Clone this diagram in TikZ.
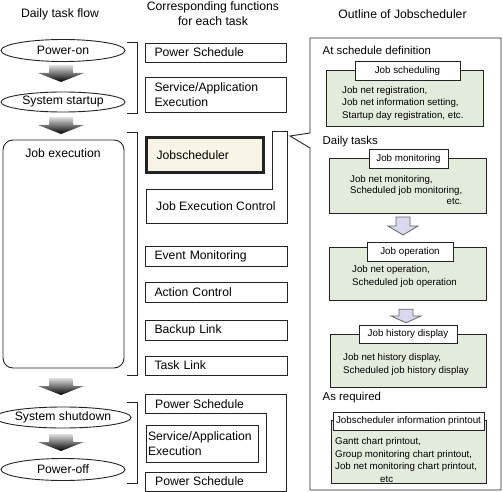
\documentclass[tikz,border=0pt]{standalone}
\usepackage{fontspec}
\setmainfont{Liberation Sans}
\usetikzlibrary{shapes.geometric}
\definecolor{grn}{RGB}{227,236,220}
\definecolor{crm}{RGB}{249,245,230}
\definecolor{lav}{RGB}{216,216,238}
\definecolor{lnc}{RGB}{35,35,35}
\begin{document}
\begin{tikzpicture}[x=1pt,y=-1pt,
 ln/.style={draw=lnc, line width=0.9pt},
 ell/.style={ellipse, ln, minimum width=124, minimum height=22, inner sep=0, font=\fontsize{12.2}{14}\selectfont},
 fbox/.style={ln, rectangle, anchor=north west, outer sep=0, inner xsep=9.5pt, inner ysep=0pt, align=left, font=\fontsize{12.2}{14.5}\selectfont},
 txt/.style={inner sep=0, font=\fontsize{12.2}{14.5}\selectfont},
 hdr/.style={font=\fontsize{12.2}{15}\selectfont, align=center, inner sep=0},
 sec/.style={font=\fontsize{11.4}{14}\selectfont, anchor=west, inner sep=0},
 gbox/.style={ln, fill=grn, rectangle, anchor=north west, outer sep=0, inner sep=0},
 tabb/.style={ln, fill=white, rectangle, anchor=north west, outer sep=0, inner sep=0, font=\fontsize{9.8}{12}\selectfont},
 body/.style={anchor=west, inner sep=0, align=left, font=\fontsize{9.7}{12.5}\selectfont},
 grayarr/.pic={\shade[top color=black!12, bottom color=black] (-12,-8) -- (12,-8) -- (12,0) -- (23,0) -- (0,9) -- (-23,0) -- (-12,0) -- cycle;},
 lavarr/.pic={\draw[draw=black!60, fill=lav, line width=0.8pt] (-7,-9) -- (7,-9) -- (7,0) -- (15,0) -- (0,9) -- (-15,0) -- (-7,0) -- cycle;}
]
\useasboundingbox (0,0) rectangle (503,492);

% ---------- left column ----------
\node[hdr] (h1) at (60,14) {Daily task flow};
\node[ell] (pon) at (63,50.5) {Power-on};
\node[ell, minimum height=20] (sst) at (63,102) {System startup};
\node[ln, rounded corners=10pt, minimum width=121, minimum height=228, anchor=north west, inner sep=0, outer sep=0] (jex) at (3,140) {};
\node[txt] (jext) at (63,153) {Job execution};
\node[ell, minimum height=21] (ssd) at (63,417.5) {System shutdown};
\node[ell] (poff) at (63,469.5) {Power-off};
\pic at (61,73) {grayarr};
\pic at (61,125) {grayarr};
\pic at (61,386) {grayarr};
\pic at (61,442) {grayarr};

% brackets
\draw[ln] (127,42) -- (137,42) -- (137,113) -- (127,113);
\draw[ln] (127,132) -- (137,132) -- (137,375) -- (127,375);
\draw[ln] (127,402) -- (137,402) -- (137,483) -- (127,483);

% ---------- middle column ----------
\node[hdr] (h2) at (213,14) {Corresponding functions\\for each task};
\node[fbox, minimum height=19, text width=122] (ps1) at (145,43) {Power Schedule};
\node[fbox, minimum height=35, text width=122] (sae1) at (145,77) {Service/Application\\Execution};
\draw[ln] (272,131) -- (287,131) -- (287,223) -- (146,223) -- (146,189) -- (272,189) -- cycle;
\node[fbox, line width=3pt, fill=crm, minimum height=34.5, inner xsep=10pt, text width=97] (jsch) at (146.5,137.5) {Jobscheduler};
\node[txt, anchor=west] (jec) at (156,206) {Job Execution Control};
\node[fbox, minimum height=20, text width=123] (evm) at (145,246) {Event Monitoring};
\node[fbox, minimum height=20, text width=123] (act) at (145,282) {Action Control};
\node[fbox, minimum height=20, text width=123] (bkl) at (145,320) {Backup Link};
\node[fbox, minimum height=19, text width=123] (tkl) at (145,356) {Task Link};
\draw[ln] (145,394) -- (286,394) -- (286,491) -- (145,491) -- (145,472) -- (266,472) -- (266,413) -- (145,413) -- cycle;
\node[txt, anchor=west] (ps2) at (155,404) {Power Schedule};
\node[txt, anchor=west] (ps3) at (155,481.5) {Power Schedule};
\node[fbox, minimum height=37, inner xsep=2pt, text width=108] (sae2) at (146,425) {Service/Application\\Execution};

% ---------- right column ----------
\node[hdr] (h3) at (402.5,14) {Outline of Jobscheduler};
\draw[ln] (310,133) -- (310,38) -- (501,38) -- (501,490) -- (310,490) -- (310,148) -- (290,136) -- cycle;

\node[sec] (s1) at (322.5,50.5) {At schedule definition};
\node[gbox, minimum width=157, minimum height=56] (gjs) at (326,70) {};
\node[tabb, minimum width=105, minimum height=19] (tjs) at (355,61) {Job scheduling};
\node[body] (bjs) at (342,103) {Job net registration,\\Job net information setting,\\Startup day registration, etc.};

\node[sec] (s2) at (322.5,141.5) {Daily tasks};
\node[gbox, minimum width=157, minimum height=55] (gjm) at (329,158) {};
\node[tabb, minimum width=79, minimum height=19] (tjm) at (369,149) {Job monitoring};
\node[body] (bjm) at (350,191) {\renewcommand\arraystretch{0.9}\begin{tabular}{@{}l@{}}Job net monitoring,\\Scheduled job monitoring,\\\hfill etc.\end{tabular}};
\pic at (403,226) {lavarr};

\node[gbox, minimum width=157, minimum height=53] (gjo) at (329,247) {};
\node[tabb, minimum width=86, minimum height=19] (tjo) at (367,242) {Job operation};
\node[body] (bjo) at (352,276.5) {Job net operation,\\Scheduled job operation};
\pic[yscale=0.75] at (406,316) {lavarr};

\node[gbox, minimum width=156, minimum height=53] (gjh) at (330,334) {};
\node[tabb, minimum width=98, minimum height=18] (tjh) at (359,325) {Job history display};
\node[body] (bjh) at (343,364.5) {Job net history display,\\Scheduled job history display};

\node[sec] (s3) at (322.5,398) {As required};
\node[gbox, minimum width=155, minimum height=63] (gjp) at (331,420) {};
\node[tabb, minimum width=151, minimum height=18] (tjp) at (333,412) {Jobscheduler information printout};
\node[body] (bjp) at (335,460) {Gantt chart printout,\\Group monitoring chart printout,\\Job net monitoring chart printout,\\\hspace*{45pt}etc};
\end{tikzpicture}
\end{document}
